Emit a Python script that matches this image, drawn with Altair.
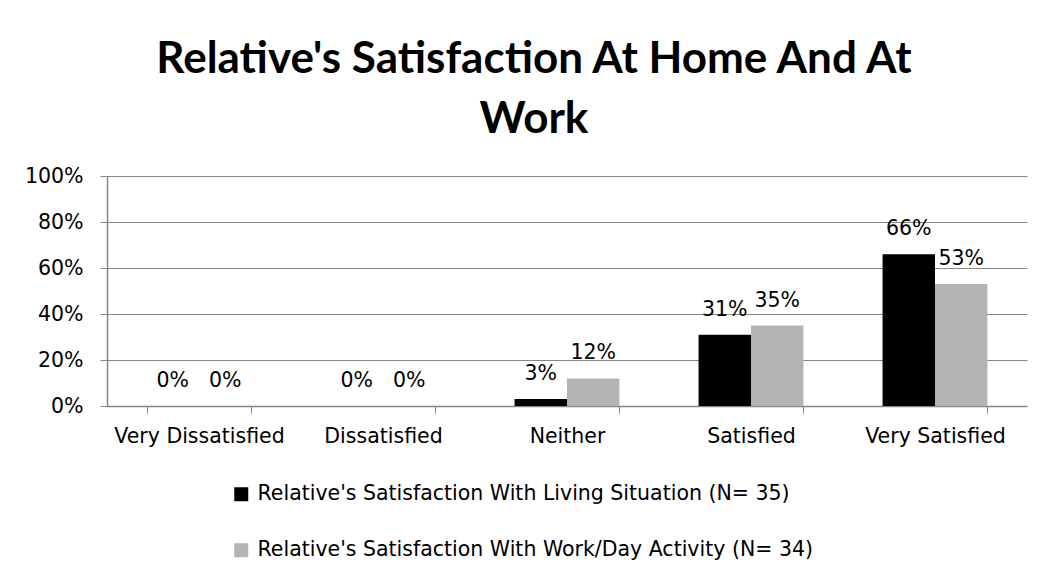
import altair as alt
import pandas as pd

categories = ["Very Dissatisfied", "Dissatisfied", "Neither", "Satisfied", "Very Satisfied"]
series_names = [
    "Relative's Satisfaction With Living Situation (N= 35)",
    "Relative's Satisfaction With Work/Day Activity (N= 34)",
]
living = [0.0, 0.0, 0.03, 0.31, 0.66]
work = [0.0, 0.0, 0.12, 0.35, 0.53]
colors = ["#000000", "#b3b3b3"]

rows = []
for i, c in enumerate(categories):
    rows.append({"cat": c, "series": series_names[0], "value": living[i]})
    rows.append({"cat": c, "series": series_names[1], "value": work[i]})
df = pd.DataFrame(rows)

FONT = "DejaVu Sans"
TFONT = "Lato"
GRID = "#868686"
FS = 20.5

x = alt.X("cat:N", sort=categories, title=None,
          scale=alt.Scale(paddingInner=0.43, paddingOuter=0.215),
          axis=alt.Axis(labelAngle=0, labelFontSize=FS, labelColor="#000000", labelFont=FONT,
                        domainColor=GRID, tickColor=GRID, tickSize=7, tickBand="extent",
                        labelPadding=13, grid=False))
y = alt.Y("value:Q", title=None,
          scale=alt.Scale(domain=[0, 1]),
          axis=alt.Axis(values=[0, 0.2, 0.4, 0.6, 0.8, 1.0], format=".0%", labelFontSize=FS,
                        labelColor="#000000", labelFont=FONT, domainColor=GRID, tickColor=GRID,
                        tickSize=7, gridColor=GRID, labelPadding=17))
xo = alt.XOffset("series:N", sort=series_names)
color = alt.Color("series:N", sort=series_names, title=None,
                  scale=alt.Scale(domain=series_names, range=colors),
                  legend=alt.Legend(orient="none", legendX=124, legendY=308, direction="vertical",
                                    symbolType="square", symbolSize=196, symbolStrokeWidth=0,
                                    labelFontSize=FS, labelFont=FONT, labelColor="#000000",
                                    labelOffset=6, rowPadding=35, labelLimit=700))

bars = alt.Chart(df).mark_bar().encode(x=x, y=y, xOffset=xo, color=color)
labels = alt.Chart(df).mark_text(baseline="bottom", dy=-15, fontSize=FS, font=FONT,
                                 color="#000000").encode(
    x=x, y=y, xOffset=xo, text=alt.Text("value:Q", format=".0%"))

chart = alt.layer(bars, labels).properties(
    width=920, height=230,
    title=alt.TitleParams(
        text=["Relative's Satisfaction At Home And At", "Work"],
        fontSize=44, font=TFONT, fontWeight="bold", color="#000000",
        anchor="middle", dx=-33, offset=24, lineHeight=60),
    autosize=alt.AutoSizeParams(type="none"),
    padding={"left": 99, "top": 168, "right": 8, "bottom": 165},
).configure_view(stroke=None).configure_axis(gridWidth=1, domainWidth=1.5)

chart.save("out.html", embed_options={"renderer": "svg", "actions": False})
